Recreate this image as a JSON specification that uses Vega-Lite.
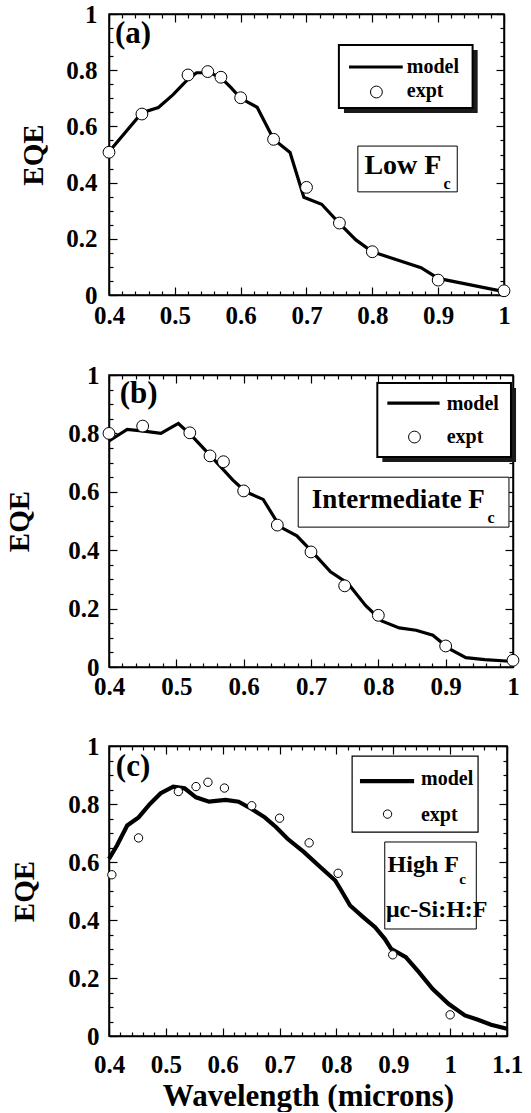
{
  "$schema": "https://vega.github.io/schema/vega-lite/v6.json",
  "background": "white",
  "padding": {"left": 5, "top": 1, "right": 0, "bottom": 0},
  "config": {
    "view": {"stroke": "black", "strokeWidth": 1.5},
    "axis": {"domainColor": "black", "domainWidth": 1.5, "tickColor": "black", "tickWidth": 1.2,
      "labelFont": "Liberation Serif", "labelFontWeight": "bold", "labelFontSize": 25, "labelColor": "black",
      "titleFont": "Liberation Serif", "titleFontWeight": "bold", "titleColor": "black", "titleFontSize": 29,
      "grid": false, "labelOverlap": false, "labelFlush": false},
    "text": {"font": "Liberation Serif", "fontWeight": "bold", "color": "black"}
  },
  "datasets": {
    "a_model": [
      {"wavelength": 0.4, "eqe": 0.51}, {"wavelength": 0.45, "eqe": 0.649}, {"wavelength": 0.475, "eqe": 0.667},
      {"wavelength": 0.497, "eqe": 0.712}, {"wavelength": 0.52, "eqe": 0.768}, {"wavelength": 0.533, "eqe": 0.791},
      {"wavelength": 0.554, "eqe": 0.791}, {"wavelength": 0.571, "eqe": 0.771}, {"wavelength": 0.585, "eqe": 0.739},
      {"wavelength": 0.6, "eqe": 0.7}, {"wavelength": 0.625, "eqe": 0.668}, {"wavelength": 0.65, "eqe": 0.554},
      {"wavelength": 0.675, "eqe": 0.507}, {"wavelength": 0.696, "eqe": 0.348}, {"wavelength": 0.723, "eqe": 0.323},
      {"wavelength": 0.75, "eqe": 0.255}, {"wavelength": 0.775, "eqe": 0.196}, {"wavelength": 0.8, "eqe": 0.154},
      {"wavelength": 0.823, "eqe": 0.136}, {"wavelength": 0.874, "eqe": 0.097}, {"wavelength": 0.9, "eqe": 0.059},
      {"wavelength": 0.949, "eqe": 0.036}, {"wavelength": 1.0, "eqe": 0.012}
    ],
    "a_expt": [
      {"wavelength": 0.4, "eqe": 0.508}, {"wavelength": 0.45, "eqe": 0.644},
      {"wavelength": 0.52, "eqe": 0.783}, {"wavelength": 0.55, "eqe": 0.795},
      {"wavelength": 0.57, "eqe": 0.775}, {"wavelength": 0.6, "eqe": 0.702},
      {"wavelength": 0.65, "eqe": 0.554}, {"wavelength": 0.7, "eqe": 0.383},
      {"wavelength": 0.75, "eqe": 0.256}, {"wavelength": 0.8, "eqe": 0.154},
      {"wavelength": 0.9, "eqe": 0.053}, {"wavelength": 1.0, "eqe": 0.015}
    ],
    "b_model": [
      {"wavelength": 0.4, "eqe": 0.774}, {"wavelength": 0.427, "eqe": 0.814}, {"wavelength": 0.452, "eqe": 0.808},
      {"wavelength": 0.477, "eqe": 0.8}, {"wavelength": 0.503, "eqe": 0.834}, {"wavelength": 0.522, "eqe": 0.794},
      {"wavelength": 0.553, "eqe": 0.718}, {"wavelength": 0.584, "eqe": 0.64}, {"wavelength": 0.603, "eqe": 0.6},
      {"wavelength": 0.629, "eqe": 0.574}, {"wavelength": 0.654, "eqe": 0.48}, {"wavelength": 0.679, "eqe": 0.449},
      {"wavelength": 0.704, "eqe": 0.389}, {"wavelength": 0.729, "eqe": 0.326}, {"wavelength": 0.755, "eqe": 0.286},
      {"wavelength": 0.781, "eqe": 0.211}, {"wavelength": 0.805, "eqe": 0.158}, {"wavelength": 0.831, "eqe": 0.134},
      {"wavelength": 0.856, "eqe": 0.126}, {"wavelength": 0.881, "eqe": 0.109}, {"wavelength": 0.905, "eqe": 0.063},
      {"wavelength": 0.93, "eqe": 0.032}, {"wavelength": 0.958, "eqe": 0.025}, {"wavelength": 1.0, "eqe": 0.019}
    ],
    "b_expt": [
      {"wavelength": 0.4, "eqe": 0.8}, {"wavelength": 0.45, "eqe": 0.825},
      {"wavelength": 0.52, "eqe": 0.802}, {"wavelength": 0.55, "eqe": 0.723},
      {"wavelength": 0.57, "eqe": 0.703}, {"wavelength": 0.6, "eqe": 0.603},
      {"wavelength": 0.65, "eqe": 0.486}, {"wavelength": 0.7, "eqe": 0.394},
      {"wavelength": 0.75, "eqe": 0.278}, {"wavelength": 0.8, "eqe": 0.177},
      {"wavelength": 0.9, "eqe": 0.072}, {"wavelength": 1.0, "eqe": 0.023}
    ],
    "c_model": [
      {"wavelength": 0.4, "eqe": 0.611}, {"wavelength": 0.414, "eqe": 0.657}, {"wavelength": 0.432, "eqe": 0.726},
      {"wavelength": 0.452, "eqe": 0.754}, {"wavelength": 0.472, "eqe": 0.8}, {"wavelength": 0.491, "eqe": 0.837},
      {"wavelength": 0.513, "eqe": 0.86}, {"wavelength": 0.533, "eqe": 0.854}, {"wavelength": 0.553, "eqe": 0.823},
      {"wavelength": 0.576, "eqe": 0.808}, {"wavelength": 0.605, "eqe": 0.814}, {"wavelength": 0.628, "eqe": 0.808},
      {"wavelength": 0.651, "eqe": 0.783}, {"wavelength": 0.674, "eqe": 0.754}, {"wavelength": 0.694, "eqe": 0.72},
      {"wavelength": 0.714, "eqe": 0.68}, {"wavelength": 0.743, "eqe": 0.634}, {"wavelength": 0.772, "eqe": 0.582},
      {"wavelength": 0.798, "eqe": 0.536}, {"wavelength": 0.807, "eqe": 0.507}, {"wavelength": 0.824, "eqe": 0.45},
      {"wavelength": 0.847, "eqe": 0.41}, {"wavelength": 0.868, "eqe": 0.375}, {"wavelength": 0.885, "eqe": 0.335},
      {"wavelength": 0.896, "eqe": 0.301}, {"wavelength": 0.922, "eqe": 0.272}, {"wavelength": 0.945, "eqe": 0.22},
      {"wavelength": 0.969, "eqe": 0.163}, {"wavelength": 0.997, "eqe": 0.111}, {"wavelength": 1.026, "eqe": 0.071},
      {"wavelength": 1.049, "eqe": 0.056}, {"wavelength": 1.072, "eqe": 0.039}, {"wavelength": 1.1, "eqe": 0.025}
    ],
    "c_expt": [
      {"wavelength": 0.405, "eqe": 0.556}, {"wavelength": 0.452, "eqe": 0.683},
      {"wavelength": 0.522, "eqe": 0.843}, {"wavelength": 0.553, "eqe": 0.86},
      {"wavelength": 0.574, "eqe": 0.875}, {"wavelength": 0.603, "eqe": 0.855},
      {"wavelength": 0.651, "eqe": 0.794}, {"wavelength": 0.7, "eqe": 0.751},
      {"wavelength": 0.752, "eqe": 0.666}, {"wavelength": 0.803, "eqe": 0.561},
      {"wavelength": 0.899, "eqe": 0.28}, {"wavelength": 1.0, "eqe": 0.073}
    ],
    "a_notes": [{"panel": "(a)", "main": "Low F", "sub": "c", "line_label": "model", "point_label": "expt"}],
    "b_notes": [{"panel": "(b)", "main": "Intermediate F", "sub": "c", "line_label": "model", "point_label": "expt"}],
    "c_notes": [{"panel": "(c)", "main": "High F", "sub": "c", "extra": "μc-Si:H:F", "line_label": "model", "point_label": "expt"}]
  },
  "spacing": 29,
  "vconcat": [
    {
      "width": 395, "height": 281,
      "resolve": {"axis": {"x": "independent", "y": "independent"}},
      "layer": [
        {
          "data": {"name": "a_model"},
          "mark": {"type": "line", "color": "black", "strokeWidth": 3.2, "clip": false},
          "encoding": {
            "x": {"field": "wavelength", "type": "quantitative", "scale": {"domain": [0.4, 1.0], "nice": false, "zero": false},
              "axis": {"orient": "bottom", "title": null, "labelPadding": 16,
                "values": [0.4,0.42,0.44,0.46,0.48,0.5,0.52,0.54,0.56,0.58,0.6,0.62,0.64,0.66,0.68,0.7,0.72,0.74,0.76,0.78,0.8,0.82,0.84,0.86,0.88,0.9,0.92,0.94,0.96,0.98,1.0],
                "labelExpr": "abs(datum.value*10-round(datum.value*10))<0.001 ? format(datum.value, '.1~f') : ''",
                "tickSize": {"condition": {"test": "abs(datum.value*10-round(datum.value*10))<0.001", "value": -8}, "value": -4}}},
            "y": {"field": "eqe", "type": "quantitative", "scale": {"domain": [0, 1], "nice": false},
              "axis": {"orient": "left", "title": "EQE", "labelPadding": 20, "titlePadding": 17,
                "values": [0,0.05,0.1,0.15,0.2,0.25,0.3,0.35,0.4,0.45,0.5,0.55,0.6,0.65,0.7,0.75,0.8,0.85,0.9,0.95,1.0],
                "labelExpr": "abs(datum.value*5-round(datum.value*5))<0.001 ? format(datum.value, '.1~f') : ''",
                "tickSize": {"condition": {"test": "abs(datum.value*5-round(datum.value*5))<0.001", "value": -8}, "value": -4}}}
          }
        },
        {
          "data": {"name": "a_expt"},
          "mark": {"type": "point", "filled": true, "fill": "white", "stroke": "black", "strokeWidth": 1, "size": 140, "opacity": 1, "clip": false},
          "encoding": {
            "x": {"field": "wavelength", "type": "quantitative",
              "axis": {"orient": "top", "title": null, "labels": false,
                "values": [0.4,0.42,0.44,0.46,0.48,0.5,0.52,0.54,0.56,0.58,0.6,0.62,0.64,0.66,0.68,0.7,0.72,0.74,0.76,0.78,0.8,0.82,0.84,0.86,0.88,0.9,0.92,0.94,0.96,0.98,1.0],
                "tickSize": {"condition": {"test": "abs(datum.value*10-round(datum.value*10))<0.001", "value": -8}, "value": -4}}},
            "y": {"field": "eqe", "type": "quantitative",
              "axis": {"orient": "right", "title": null, "labels": false,
                "values": [0,0.05,0.1,0.15,0.2,0.25,0.3,0.35,0.4,0.45,0.5,0.55,0.6,0.65,0.7,0.75,0.8,0.85,0.9,0.95,1.0],
                "tickSize": {"condition": {"test": "abs(datum.value*5-round(datum.value*5))<0.001", "value": -8}, "value": -4}}}
          }
        },
        {
          "data": {"name": "a_notes"},
          "mark": {"type": "text", "align": "left", "baseline": "middle", "fontSize": 31},
          "encoding": {"x": {"datum": 0.409, "type": "quantitative", "axis": null}, "y": {"datum": 0.93, "type": "quantitative", "axis": null}, "text": {"field": "panel"}}
        },
        {
          "data": {"name": "a_notes"},
          "mark": {"type": "rect", "fill": "white", "stroke": "black", "strokeWidth": 1},
          "encoding": {"x": {"datum": 0.778, "type": "quantitative", "axis": null}, "x2": {"datum": 0.929}, "y": {"datum": 0.53, "type": "quantitative", "axis": null}, "y2": {"datum": 0.367}}
        },
        {
          "data": {"name": "a_notes"},
          "mark": {"type": "text", "align": "left", "baseline": "alphabetic", "fontSize": 28},
          "encoding": {"x": {"datum": 0.788, "type": "quantitative", "axis": null}, "y": {"datum": 0.431, "type": "quantitative", "axis": null}, "text": {"field": "main"}}
        },
        {
          "data": {"name": "a_notes"},
          "mark": {"type": "text", "align": "left", "baseline": "alphabetic", "fontSize": 16},
          "encoding": {"x": {"datum": 0.908, "type": "quantitative", "axis": null}, "y": {"datum": 0.377, "type": "quantitative", "axis": null}, "text": {"field": "sub"}}
        },
        {
          "data": {"name": "a_notes"},
          "mark": {"type": "rect", "fill": "#1a1a1a"},
          "encoding": {"x": {"datum": 0.7569, "type": "quantitative", "axis": null}, "x2": {"datum": 0.96}, "y": {"datum": 0.8719, "type": "quantitative", "axis": null}, "y2": {"datum": 0.6477}}
        },
        {
          "data": {"name": "a_notes"},
          "mark": {"type": "rect", "fill": "white", "stroke": "black", "strokeWidth": 2},
          "encoding": {"x": {"datum": 0.7492, "type": "quantitative", "axis": null}, "x2": {"datum": 0.9523}, "y": {"datum": 0.8897, "type": "quantitative", "axis": null}, "y2": {"datum": 0.6655}}
        },
        {
          "data": {"name": "a_notes"},
          "mark": {"type": "rule", "color": "black", "strokeWidth": 3.2},
          "encoding": {"x": {"datum": 0.7646, "type": "quantitative", "axis": null}, "x2": {"datum": 0.8462}, "y": {"datum": 0.8114, "type": "quantitative", "axis": null}}
        },
        {
          "data": {"name": "a_notes"},
          "mark": {"type": "point", "filled": true, "fill": "white", "stroke": "black", "strokeWidth": 1, "size": 140, "opacity": 1},
          "encoding": {"x": {"datum": 0.8062, "type": "quantitative", "axis": null}, "y": {"datum": 0.7224, "type": "quantitative", "axis": null}}
        },
        {
          "data": {"name": "a_notes"},
          "mark": {"type": "text", "align": "left", "baseline": "alphabetic", "fontSize": 20},
          "encoding": {"x": {"datum": 0.8523, "type": "quantitative", "axis": null}, "y": {"datum": 0.79, "type": "quantitative", "axis": null}, "text": {"field": "line_label"}}
        },
        {
          "data": {"name": "a_notes"},
          "mark": {"type": "text", "align": "left", "baseline": "alphabetic", "fontSize": 20},
          "encoding": {"x": {"datum": 0.8523, "type": "quantitative", "axis": null}, "y": {"datum": 0.7046, "type": "quantitative", "axis": null}, "text": {"field": "point_label"}}
        }
      ]
    },
    {
      "width": 404, "height": 292,
      "resolve": {"axis": {"x": "independent", "y": "independent"}},
      "layer": [
        {
          "data": {"name": "b_model"},
          "mark": {"type": "line", "color": "black", "strokeWidth": 3.2, "clip": false},
          "encoding": {
            "x": {"field": "wavelength", "type": "quantitative", "scale": {"domain": [0.4, 1.0], "nice": false, "zero": false},
              "axis": {"orient": "bottom", "title": null, "labelPadding": 15,
                "values": [0.4,0.42,0.44,0.46,0.48,0.5,0.52,0.54,0.56,0.58,0.6,0.62,0.64,0.66,0.68,0.7,0.72,0.74,0.76,0.78,0.8,0.82,0.84,0.86,0.88,0.9,0.92,0.94,0.96,0.98,1.0],
                "labelExpr": "abs(datum.value*10-round(datum.value*10))<0.001 ? format(datum.value, '.1~f') : ''",
                "tickSize": {"condition": {"test": "abs(datum.value*10-round(datum.value*10))<0.001", "value": -8}, "value": -4}}},
            "y": {"field": "eqe", "type": "quantitative", "scale": {"domain": [0, 1], "nice": false},
              "axis": {"orient": "left", "title": "EQE", "labelPadding": 18, "titlePadding": 33,
                "values": [0,0.05,0.1,0.15,0.2,0.25,0.3,0.35,0.4,0.45,0.5,0.55,0.6,0.65,0.7,0.75,0.8,0.85,0.9,0.95,1.0],
                "labelExpr": "abs(datum.value*5-round(datum.value*5))<0.001 ? format(datum.value, '.1~f') : ''",
                "tickSize": {"condition": {"test": "abs(datum.value*5-round(datum.value*5))<0.001", "value": -8}, "value": -4}}}
          }
        },
        {
          "data": {"name": "b_expt"},
          "mark": {"type": "point", "filled": true, "fill": "white", "stroke": "black", "strokeWidth": 1, "size": 140, "opacity": 1, "clip": false},
          "encoding": {
            "x": {"field": "wavelength", "type": "quantitative",
              "axis": {"orient": "top", "title": null, "labels": false,
                "values": [0.4,0.42,0.44,0.46,0.48,0.5,0.52,0.54,0.56,0.58,0.6,0.62,0.64,0.66,0.68,0.7,0.72,0.74,0.76,0.78,0.8,0.82,0.84,0.86,0.88,0.9,0.92,0.94,0.96,0.98,1.0],
                "tickSize": {"condition": {"test": "abs(datum.value*10-round(datum.value*10))<0.001", "value": -8}, "value": -4}}},
            "y": {"field": "eqe", "type": "quantitative",
              "axis": {"orient": "right", "title": null, "labels": false,
                "values": [0,0.05,0.1,0.15,0.2,0.25,0.3,0.35,0.4,0.45,0.5,0.55,0.6,0.65,0.7,0.75,0.8,0.85,0.9,0.95,1.0],
                "tickSize": {"condition": {"test": "abs(datum.value*5-round(datum.value*5))<0.001", "value": -8}, "value": -4}}}
          }
        },
        {
          "data": {"name": "b_notes"},
          "mark": {"type": "text", "align": "left", "baseline": "middle", "fontSize": 31},
          "encoding": {"x": {"datum": 0.416, "type": "quantitative", "axis": null}, "y": {"datum": 0.936, "type": "quantitative", "axis": null}, "text": {"field": "panel"}}
        },
        {
          "data": {"name": "b_notes"},
          "mark": {"type": "rect", "fill": "white", "stroke": "black", "strokeWidth": 1},
          "encoding": {"x": {"datum": 0.681, "type": "quantitative", "axis": null}, "x2": {"datum": 0.994}, "y": {"datum": 0.65, "type": "quantitative", "axis": null}, "y2": {"datum": 0.479}}
        },
        {
          "data": {"name": "b_notes"},
          "mark": {"type": "text", "align": "left", "baseline": "alphabetic", "fontSize": 27},
          "encoding": {"x": {"datum": 0.701, "type": "quantitative", "axis": null}, "y": {"datum": 0.544, "type": "quantitative", "axis": null}, "text": {"field": "main"}}
        },
        {
          "data": {"name": "b_notes"},
          "mark": {"type": "text", "align": "left", "baseline": "alphabetic", "fontSize": 16},
          "encoding": {"x": {"datum": 0.962, "type": "quantitative", "axis": null}, "y": {"datum": 0.493, "type": "quantitative", "axis": null}, "text": {"field": "sub"}}
        },
        {
          "data": {"name": "b_notes"},
          "mark": {"type": "rect", "fill": "#1a1a1a"},
          "encoding": {"x": {"datum": 0.806, "type": "quantitative", "axis": null}, "x2": {"datum": 1.0045}, "y": {"datum": 0.9554, "type": "quantitative", "axis": null}, "y2": {"datum": 0.7018}}
        },
        {
          "data": {"name": "b_notes"},
          "mark": {"type": "rect", "fill": "white", "stroke": "black", "strokeWidth": 2},
          "encoding": {"x": {"datum": 0.7985, "type": "quantitative", "axis": null}, "x2": {"datum": 0.997}, "y": {"datum": 0.9726, "type": "quantitative", "axis": null}, "y2": {"datum": 0.7189}}
        },
        {
          "data": {"name": "b_notes"},
          "mark": {"type": "rule", "color": "black", "strokeWidth": 3.2},
          "encoding": {"x": {"datum": 0.8134, "type": "quantitative", "axis": null}, "x2": {"datum": 0.891}, "y": {"datum": 0.904, "type": "quantitative", "axis": null}}
        },
        {
          "data": {"name": "b_notes"},
          "mark": {"type": "point", "filled": true, "fill": "white", "stroke": "black", "strokeWidth": 1, "size": 140, "opacity": 1},
          "encoding": {"x": {"datum": 0.8537, "type": "quantitative", "axis": null}, "y": {"datum": 0.7875, "type": "quantitative", "axis": null}}
        },
        {
          "data": {"name": "b_notes"},
          "mark": {"type": "text", "align": "left", "baseline": "alphabetic", "fontSize": 20},
          "encoding": {"x": {"datum": 0.9015, "type": "quantitative", "axis": null}, "y": {"datum": 0.88, "type": "quantitative", "axis": null}, "text": {"field": "line_label"}}
        },
        {
          "data": {"name": "b_notes"},
          "mark": {"type": "text", "align": "left", "baseline": "alphabetic", "fontSize": 20},
          "encoding": {"x": {"datum": 0.9015, "type": "quantitative", "axis": null}, "y": {"datum": 0.7669, "type": "quantitative", "axis": null}, "text": {"field": "point_label"}}
        }
      ]
    },
    {
      "width": 398, "height": 290,
      "resolve": {"axis": {"x": "independent", "y": "independent"}},
      "layer": [
        {
          "data": {"name": "c_model"},
          "mark": {"type": "line", "color": "black", "strokeWidth": 4.2, "clip": false},
          "encoding": {
            "x": {"field": "wavelength", "type": "quantitative", "scale": {"domain": [0.4, 1.1], "nice": false, "zero": false},
              "axis": {"orient": "bottom", "title": "Wavelength (microns)", "titleFontSize": 31, "titlePadding": 0, "labelPadding": 24,
                "values": [0.4,0.42,0.44,0.46,0.48,0.5,0.52,0.54,0.56,0.58,0.6,0.62,0.64,0.66,0.68,0.7,0.72,0.74,0.76,0.78,0.8,0.82,0.84,0.86,0.88,0.9,0.92,0.94,0.96,0.98,1.0,1.02,1.04,1.06,1.08,1.1],
                "labelExpr": "abs(datum.value*10-round(datum.value*10))<0.001 ? format(datum.value, '.1~f') : ''",
                "tickSize": {"condition": {"test": "abs(datum.value*10-round(datum.value*10))<0.001", "value": -8}, "value": -4}}},
            "y": {"field": "eqe", "type": "quantitative", "scale": {"domain": [0, 1], "nice": false},
              "axis": {"orient": "left", "title": "EQE", "labelPadding": 18, "titlePadding": 28,
                "values": [0,0.05,0.1,0.15,0.2,0.25,0.3,0.35,0.4,0.45,0.5,0.55,0.6,0.65,0.7,0.75,0.8,0.85,0.9,0.95,1.0],
                "labelExpr": "abs(datum.value*5-round(datum.value*5))<0.001 ? format(datum.value, '.1~f') : ''",
                "tickSize": {"condition": {"test": "abs(datum.value*5-round(datum.value*5))<0.001", "value": -8}, "value": -4}}}
          }
        },
        {
          "data": {"name": "c_expt"},
          "mark": {"type": "point", "filled": true, "fill": "white", "stroke": "black", "strokeWidth": 1, "size": 70, "opacity": 1, "clip": false},
          "encoding": {
            "x": {"field": "wavelength", "type": "quantitative",
              "axis": {"orient": "top", "title": null, "labels": false,
                "values": [0.4,0.42,0.44,0.46,0.48,0.5,0.52,0.54,0.56,0.58,0.6,0.62,0.64,0.66,0.68,0.7,0.72,0.74,0.76,0.78,0.8,0.82,0.84,0.86,0.88,0.9,0.92,0.94,0.96,0.98,1.0,1.02,1.04,1.06,1.08,1.1],
                "tickSize": {"condition": {"test": "abs(datum.value*10-round(datum.value*10))<0.001", "value": -8}, "value": -4}}},
            "y": {"field": "eqe", "type": "quantitative",
              "axis": {"orient": "right", "title": null, "labels": false,
                "values": [0,0.05,0.1,0.15,0.2,0.25,0.3,0.35,0.4,0.45,0.5,0.55,0.6,0.65,0.7,0.75,0.8,0.85,0.9,0.95,1.0],
                "tickSize": {"condition": {"test": "abs(datum.value*5-round(datum.value*5))<0.001", "value": -8}, "value": -4}}}
          }
        },
        {
          "data": {"name": "c_notes"},
          "mark": {"type": "text", "align": "left", "baseline": "middle", "fontSize": 31},
          "encoding": {"x": {"datum": 0.412, "type": "quantitative", "axis": null}, "y": {"datum": 0.928, "type": "quantitative", "axis": null}, "text": {"field": "panel"}}
        },
        {
          "data": {"name": "c_notes"},
          "mark": {"type": "rect", "fill": "white", "stroke": "black", "strokeWidth": 1},
          "encoding": {"x": {"datum": 0.885, "type": "quantitative", "axis": null}, "x2": {"datum": 1.046}, "y": {"datum": 0.669, "type": "quantitative", "axis": null}, "y2": {"datum": 0.369}}
        },
        {
          "data": {"name": "c_notes"},
          "mark": {"type": "text", "align": "left", "baseline": "alphabetic", "fontSize": 24},
          "encoding": {"x": {"datum": 0.89, "type": "quantitative", "axis": null}, "y": {"datum": 0.565, "type": "quantitative", "axis": null}, "text": {"field": "main"}}
        },
        {
          "data": {"name": "c_notes"},
          "mark": {"type": "text", "align": "left", "baseline": "alphabetic", "fontSize": 15},
          "encoding": {"x": {"datum": 1.016, "type": "quantitative", "axis": null}, "y": {"datum": 0.524, "type": "quantitative", "axis": null}, "text": {"field": "sub"}}
        },
        {
          "data": {"name": "c_notes"},
          "mark": {"type": "text", "align": "left", "baseline": "alphabetic", "fontSize": 24},
          "encoding": {"x": {"datum": 0.887, "type": "quantitative", "axis": null}, "y": {"datum": 0.411, "type": "quantitative", "axis": null}, "text": {"field": "extra"}}
        },
        {
          "data": {"name": "c_notes"},
          "mark": {"type": "rect", "fill": "white", "stroke": "black", "strokeWidth": 1.2},
          "encoding": {"x": {"datum": 0.8276, "type": "quantitative", "axis": null}, "x2": {"datum": 1.0491}, "y": {"datum": 0.9649, "type": "quantitative", "axis": null}, "y2": {"datum": 0.7033}}
        },
        {
          "data": {"name": "c_notes"},
          "mark": {"type": "rule", "color": "black", "strokeWidth": 4.2},
          "encoding": {"x": {"datum": 0.8414, "type": "quantitative", "axis": null}, "x2": {"datum": 0.9366}, "y": {"datum": 0.8789, "type": "quantitative", "axis": null}}
        },
        {
          "data": {"name": "c_notes"},
          "mark": {"type": "point", "filled": true, "fill": "white", "stroke": "black", "strokeWidth": 1, "size": 70, "opacity": 1},
          "encoding": {"x": {"datum": 0.8899, "type": "quantitative", "axis": null}, "y": {"datum": 0.7652, "type": "quantitative", "axis": null}}
        },
        {
          "data": {"name": "c_notes"},
          "mark": {"type": "text", "align": "left", "baseline": "alphabetic", "fontSize": 20},
          "encoding": {"x": {"datum": 0.9487, "type": "quantitative", "axis": null}, "y": {"datum": 0.8651, "type": "quantitative", "axis": null}, "text": {"field": "line_label"}}
        },
        {
          "data": {"name": "c_notes"},
          "mark": {"type": "text", "align": "left", "baseline": "alphabetic", "fontSize": 20},
          "encoding": {"x": {"datum": 0.9487, "type": "quantitative", "axis": null}, "y": {"datum": 0.7412, "type": "quantitative", "axis": null}, "text": {"field": "point_label"}}
        }
      ]
    }
  ]
}
